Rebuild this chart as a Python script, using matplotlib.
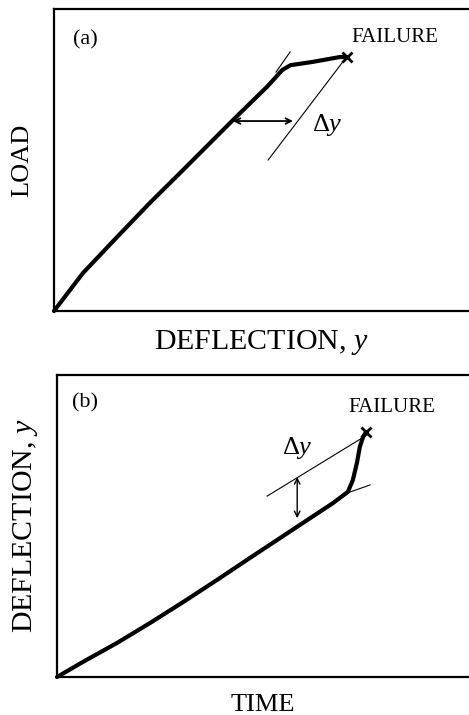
import matplotlib.pyplot as plt

plt.rcParams['font.family'] = ['Liberation Serif', 'DejaVu Serif']
plt.rcParams['mathtext.fontset'] = 'custom'
plt.rcParams['mathtext.rm'] = 'Liberation Serif'
plt.rcParams['mathtext.it'] = 'Liberation Serif:italic'

# (a) load vs deflection
load_defl_x = [0, 0.70, 1.52, 2.31, 3.11, 3.59, 4.31, 5.13, 5.33, 5.50, 5.70, 6.24, 6.89, 7.06]
load_defl_y = [0, 1.26, 2.45, 3.58, 4.67, 5.33, 6.32, 7.42, 7.72, 7.98, 8.14, 8.25, 8.41, 8.41]
tangent_a_x = [5.35, 5.69]
tangent_a_y = [7.91, 8.58]
offset_a_x = [5.16, 6.96]
offset_a_y = [5.00, 8.25]
arrow_a = (4.31, 5.76, 6.29)  # x start, x end, y

# (b) deflection vs time
time_x = [0, 0.63, 1.46, 2.26, 3.06, 3.88, 4.68, 5.49, 6.70, 7.06, 7.18, 7.28, 7.35, 7.43, 7.50]
time_y = [0, 0.50, 1.13, 1.79, 2.48, 3.21, 3.94, 4.67, 5.76, 6.13, 6.52, 7.09, 7.62, 7.95, 8.11]
tangent_b_x = [7.04, 7.60]
tangent_b_y = [6.09, 6.36]
offset_b_x = [5.10, 7.52]
offset_b_y = [5.99, 8.01]
arrow_b = (5.83, 6.62, 5.26)  # x, y top, y bottom

W, H = 469, 715
fig = plt.figure(figsize=(W / 100, H / 100), dpi=100)
ax1 = fig.add_axes([54 / W, 1 - 311 / H, 415 / W, 302 / H])
ax2 = fig.add_axes([57 / W, 1 - 677 / H, 412 / W, 302 / H])

for ax in (ax1, ax2):
    ax.set_xlim(0, 10)
    ax.set_ylim(0, 10)
    ax.set_xticks([])
    ax.set_yticks([])
    ax.spines['right'].set_visible(False)
    for s in ('left', 'bottom', 'top'):
        ax.spines[s].set_linewidth(1.6)

# panel a
ax1.plot(load_defl_x, load_defl_y, color='black', lw=3, solid_capstyle='round',
         solid_joinstyle='round', clip_on=False)
ax1.plot(tangent_a_x, tangent_a_y, color='black', lw=0.8)
ax1.plot(offset_a_x, offset_a_y, color='black', lw=0.8)
ax1.plot(load_defl_x[-1], load_defl_y[-1], marker='x', color='black', ms=7, mew=2)
ax1.annotate('', xy=(arrow_a[0], arrow_a[2]), xytext=(arrow_a[1], arrow_a[2]),
             arrowprops=dict(arrowstyle='<->', lw=1.3, color='black', shrinkA=0, shrinkB=0))
ax1.text(6.58, 6.16, r'$\Delta y$', fontsize=19, ha='center', va='center')
ax1.text(8.22, 9.04, 'FAILURE', fontsize=15, ha='center', va='center')
ax1.text(0.75, 8.97, '(a)', fontsize=16, ha='center', va='center')
ax1.set_ylabel('LOAD', fontsize=19, labelpad=15)
ax1.set_xlabel('DEFLECTION, $y$', fontsize=21.5, labelpad=12)

# panel b
ax2.plot(time_x, time_y, color='black', lw=3, solid_capstyle='round',
         solid_joinstyle='round', clip_on=False)
ax2.plot(tangent_b_x, tangent_b_y, color='black', lw=0.8)
ax2.plot(offset_b_x, offset_b_y, color='black', lw=0.8)
ax2.plot(time_x[-1], time_y[-1], marker='x', color='black', ms=7, mew=2)
ax2.annotate('', xy=(arrow_b[0], arrow_b[1]), xytext=(arrow_b[0], arrow_b[2]),
             arrowprops=dict(arrowstyle='<->', lw=1.0, color='black', shrinkA=0, shrinkB=0))
ax2.text(5.83, 7.58, r'$\Delta y$', fontsize=19, ha='center', va='center')
ax2.text(8.13, 8.94, 'FAILURE', fontsize=15, ha='center', va='center')
ax2.text(0.68, 9.07, '(b)', fontsize=16, ha='center', va='center')
ax2.set_ylabel('DEFLECTION, $y$', fontsize=21.5, labelpad=12)
ax2.set_xlabel('TIME', fontsize=19, labelpad=12)

fig.savefig('out.png', dpi=100)
